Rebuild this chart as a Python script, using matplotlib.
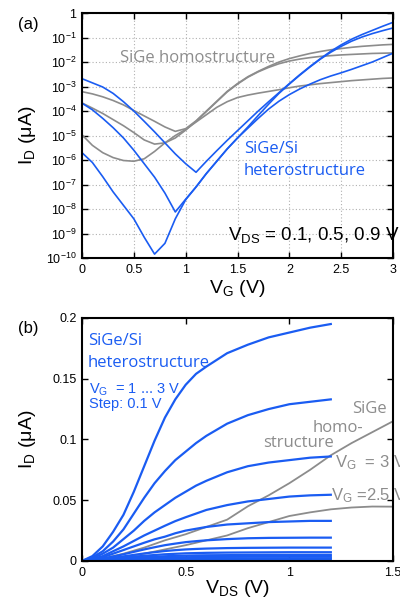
import matplotlib
matplotlib.use('Agg')
import matplotlib.pyplot as plt
import numpy as np

plt.rcParams['font.family'] = ['Liberation Sans', 'DejaVu Sans']
plt.rcParams['mathtext.fontset'] = 'custom'
plt.rcParams['mathtext.rm'] = 'Liberation Sans'
plt.rcParams['mathtext.it'] = 'Liberation Sans'
plt.rcParams['mathtext.bf'] = 'Liberation Sans:bold'

blue = '#1a5cf2'
gray = '#8c8c8c'

# ---- panel (a): transfer curves, log10(I_D / uA) vs V_G ----
vg = [0.0, 0.1, 0.2, 0.3, 0.4, 0.5, 0.6, 0.7, 0.8, 0.9, 1.0,
      1.1, 1.2, 1.3, 1.4, 1.5, 1.6, 1.7, 1.8, 1.9, 2.0,
      2.1, 2.2, 2.3, 2.4, 2.5, 2.6, 2.7, 2.8, 2.9, 3.0]

hetero_09 = [-2.68, -2.85, -3.02, -3.28, -3.62, -4.0, -4.42, -4.85, -5.3, -5.75, -6.15,
             -6.5, -6.05, -5.62, -5.2, -4.8, -4.4, -4.0, -3.62, -3.25, -2.88,
             -2.52, -2.18, -1.86, -1.56, -1.3, -1.07, -0.88, -0.71, -0.54, -0.38]
hetero_05 = [-3.68, -3.95, -4.3, -4.68, -5.1, -5.6, -6.15, -6.7, -7.35, -8.12, -7.6,
             -7.1, -6.55, -6.05, -5.55, -5.1, -4.65, -4.18, -3.72, -3.28, -2.9,
             -2.54, -2.2, -1.88, -1.6, -1.36, -1.15, -0.98, -0.84, -0.72, -0.61]
hetero_01 = [-5.7, -6.1, -6.68, -7.3, -7.85, -8.4, -9.15, -9.84, -9.4, -8.4, -7.62,
             -7.1, -6.55, -6.05, -5.55, -5.1, -4.7, -4.3, -3.92, -3.6, -3.33,
             -3.1, -2.9, -2.72, -2.57, -2.44, -2.3, -2.15, -2.0, -1.82, -1.64]

homo_09 = [-3.21, -3.3, -3.42, -3.57, -3.75, -3.98, -4.2, -4.42, -4.65, -4.83, -4.72,
           -4.4, -4.0, -3.6, -3.2, -2.88, -2.6, -2.38, -2.18, -2.0, -1.86,
           -1.75, -1.65, -1.57, -1.5, -1.45, -1.4, -1.36, -1.33, -1.3, -1.28]
homo_05 = [-3.67, -3.88, -4.1, -4.35, -4.6, -4.88, -5.18, -5.35, -5.3, -5.1, -4.78,
           -4.42, -4.02, -3.62, -3.22, -2.9, -2.62, -2.4, -2.22, -2.07, -1.96,
           -1.88, -1.82, -1.77, -1.74, -1.71, -1.69, -1.67, -1.65, -1.64, -1.63]
homo_01 = [-4.97, -5.4, -5.7, -5.9, -6.02, -6.05, -5.95, -5.65, -5.3, -5.0, -4.75,
           -4.45, -4.15, -3.85, -3.62, -3.45, -3.35, -3.27, -3.2, -3.13, -3.05,
           -2.98, -2.93, -2.88, -2.84, -2.8, -2.76, -2.73, -2.7, -2.67, -2.65]

# ---- panel (b): output curves, I_D (uA) vs V_DS ----
vds_het = [0.0, 0.05, 0.1, 0.15, 0.2, 0.25, 0.3, 0.35, 0.4, 0.45, 0.5, 0.55, 0.6,
           0.7, 0.8, 0.9, 1.0, 1.1, 1.2]
het_curves = [
    [0, 0.004, 0.012, 0.024, 0.038, 0.057, 0.078, 0.099, 0.118, 0.133, 0.145, 0.154, 0.160, 0.171, 0.178, 0.184, 0.188, 0.192, 0.195],
    [0, 0.003, 0.008, 0.016, 0.026, 0.039, 0.052, 0.064, 0.074, 0.083, 0.090, 0.097, 0.103, 0.113, 0.120, 0.125, 0.129, 0.131, 0.133],
    [0, 0.002, 0.006, 0.011, 0.018, 0.025, 0.033, 0.040, 0.046, 0.052, 0.057, 0.062, 0.066, 0.073, 0.078, 0.081, 0.083, 0.085, 0.086],
    [0, 0.0015, 0.004, 0.008, 0.012, 0.0165, 0.021, 0.025, 0.029, 0.0328, 0.036, 0.039, 0.042, 0.046, 0.049, 0.051, 0.053, 0.054, 0.0545],
    [0, 0.001, 0.003, 0.006, 0.009, 0.012, 0.015, 0.0178, 0.020, 0.0228, 0.025, 0.0265, 0.028, 0.030, 0.031, 0.032, 0.0325, 0.033, 0.033],
    [0, 0.0007, 0.002, 0.0037, 0.0055, 0.0075, 0.0095, 0.0113, 0.013, 0.0143, 0.0155, 0.0163, 0.017, 0.018, 0.0187, 0.019, 0.0191, 0.0192, 0.0192],
    [0, 0.0005, 0.0015, 0.0026, 0.0038, 0.005, 0.0062, 0.0072, 0.0082, 0.0089, 0.0095, 0.0099, 0.0102, 0.0106, 0.0108, 0.0109, 0.011, 0.011, 0.011],
    [0, 0.0004, 0.001, 0.0018, 0.0027, 0.0035, 0.0043, 0.0049, 0.0055, 0.0059, 0.0063, 0.0065, 0.0067, 0.0069, 0.007, 0.0071, 0.0072, 0.0072, 0.0072],
    [0, 0.0003, 0.0008, 0.0014, 0.002, 0.0026, 0.0031, 0.0035, 0.0039, 0.0042, 0.0044, 0.0046, 0.0047, 0.0048, 0.0049, 0.005, 0.005, 0.005, 0.005],
    [0, 0.0002, 0.0006, 0.001, 0.0014, 0.0018, 0.0022, 0.0025, 0.0028, 0.003, 0.0031, 0.0032, 0.0033, 0.0034, 0.0035, 0.0035, 0.0035, 0.0035, 0.0035],
    [0, 0.0001, 0.0004, 0.0007, 0.0009, 0.0012, 0.0014, 0.0016, 0.0018, 0.0019, 0.002, 0.0021, 0.0021, 0.0022, 0.0022, 0.0022, 0.0022, 0.0022, 0.0022],
    [0, 0.0001, 0.0002, 0.0003, 0.0005, 0.0006, 0.0008, 0.0009, 0.001, 0.0011, 0.0011, 0.0012, 0.0012, 0.0012, 0.0012, 0.0012, 0.0012, 0.0012, 0.0012],
]

vds_homo = [0.0, 0.1, 0.2, 0.3, 0.4, 0.5, 0.6, 0.7, 0.8, 0.9, 1.0, 1.1, 1.2, 1.3, 1.4, 1.5]
homo_vg3 = [0, 0.002, 0.006, 0.011, 0.017, 0.022, 0.028, 0.034, 0.045, 0.054, 0.064, 0.075, 0.087, 0.097, 0.106, 0.115]
homo_vg25 = [0, 0.001, 0.003, 0.006, 0.0095, 0.013, 0.017, 0.021, 0.027, 0.032, 0.037, 0.040, 0.0425, 0.044, 0.0448, 0.0447]

yticks_a = [-10, -9, -8, -7, -6, -5, -4, -3, -2, -1, 0]
ytick_labels_a = [r'$10^{-10}$', r'$10^{-9}$', r'$10^{-8}$', r'$10^{-7}$', r'$10^{-6}$',
                  r'$10^{-5}$', r'$10^{-4}$', r'$10^{-3}$', r'$10^{-2}$', r'$10^{-1}$', '1']

fig = plt.figure(figsize=(4, 6.03), dpi=100)
ax1 = fig.add_axes([0.205, 0.5721, 0.7775, 0.4063])
ax2 = fig.add_axes([0.205, 0.0697, 0.7775, 0.403])

# panel (a)
for ys in [homo_09, homo_05, homo_01]:
    ax1.plot(vg, 10 ** np.array(ys), color=gray, lw=1.2)
for ys in [hetero_09, hetero_05, hetero_01]:
    ax1.plot(vg, 10 ** np.array(ys), color=blue, lw=1.2)
ax1.set_yscale('log')
ax1.set_xlim(0, 3)
ax1.set_ylim(1e-10, 1)
ax1.set_yticks([10.0 ** k for k in yticks_a])
ax1.set_yticklabels(ytick_labels_a)
ax1.minorticks_off()
ax1.set_xticks([0, 0.5, 1, 1.5, 2, 2.5, 3])
ax1.set_xticklabels(['0', '0.5', '1', '1.5', '2', '2.5', '3'])
ax1.grid(True, linestyle=(0, (1, 2)), color='#b0b0b0', lw=0.8)
ax1.set_xlabel(r'V$_{\rm G}$ (V)', fontsize=14)
ax1.set_ylabel(r'I$_{\rm D}$ ($\mu$A)', fontsize=14)
ax1.xaxis.set_label_coords(0.5, -0.082)
ax1.yaxis.set_label_coords(-0.14, 0.5)

ax1.text(0.122, 0.80, 'SiGe homostructure', transform=ax1.transAxes, color=gray,
         fontsize=12, family='Open Sans', va='baseline')
ax1.text(0.521, 0.4286, 'SiGe/Si', transform=ax1.transAxes, color=blue,
         fontsize=12, family='Open Sans', va='baseline')
ax1.text(0.521, 0.3388, 'heterostructure', transform=ax1.transAxes, color=blue,
         fontsize=12, family='Open Sans', va='baseline')
ax1.text(0.469, 0.0735, r'V$_{\rm DS}$ = 0.1, 0.5, 0.9 V', transform=ax1.transAxes,
         color='black', fontsize=13.5, va='baseline', clip_on=False)
fig.text(0.045, 0.96, '(a)', fontsize=12, va='center')

# panel (b)
ax2.plot(vds_homo, homo_vg3, color=gray, lw=1.3)
ax2.plot(vds_homo, homo_vg25, color=gray, lw=1.3)
for ys in het_curves:
    ax2.plot(vds_het, ys, color=blue, lw=1.6)
ax2.set_xlim(0, 1.5)
ax2.set_ylim(0, 0.2)
ax2.set_xticks([0, 0.5, 1, 1.5])
ax2.set_xticklabels(['0', '0.5', '1', '1.5'])
ax2.set_yticks([0, 0.05, 0.1, 0.15, 0.2])
ax2.set_yticklabels(['0', '0.05', '0.1', '0.15', '0.2'])
ax2.set_xlabel(r'V$_{\rm DS}$ (V)', fontsize=14)
ax2.set_ylabel(r'I$_{\rm D}$ ($\mu$A)', fontsize=14)
ax2.xaxis.set_label_coords(0.5, -0.072)
ax2.yaxis.set_label_coords(-0.14, 0.5)

ax2.text(0.019, 0.889, 'SiGe/Si', transform=ax2.transAxes, color=blue,
         fontsize=12, family='Open Sans', va='baseline')
ax2.text(0.019, 0.798, 'heterostructure', transform=ax2.transAxes, color=blue,
         fontsize=12, family='Open Sans', va='baseline')
ax2.text(0.022, 0.687, r'V$_{\rm G}$  = 1 ... 3 V', transform=ax2.transAxes, color=blue,
         fontsize=10.5, va='baseline')
ax2.text(0.022, 0.63, 'Step: 0.1 V', transform=ax2.transAxes, color=blue,
         fontsize=10.5, va='baseline')
ax2.text(0.868, 0.609, 'SiGe', transform=ax2.transAxes, color=gray,
         fontsize=12, family='Open Sans', va='baseline')
ax2.text(0.74, 0.531, 'homo-', transform=ax2.transAxes, color=gray,
         fontsize=12, family='Open Sans', va='baseline')
ax2.text(0.582, 0.469, 'structure', transform=ax2.transAxes, color=gray,
         fontsize=12, family='Open Sans', va='baseline')
ax2.text(0.814, 0.387, r'V$_{\rm G}$  = 3 V', transform=ax2.transAxes, color=gray,
         fontsize=12, va='baseline', clip_on=False)
ax2.text(0.80, 0.251, r'V$_{\rm G}$ =2.5 V', transform=ax2.transAxes, color=gray,
         fontsize=12, va='baseline', clip_on=False)
fig.text(0.045, 0.455, '(b)', fontsize=12, va='center')

for ax in [ax1, ax2]:
    ax.tick_params(direction='in', top=True, right=True, length=4, width=1,
                   labelsize=9, pad=4)
    for s in ax.spines.values():
        s.set_linewidth(1.5)

fig.savefig('out.png', dpi=100)
